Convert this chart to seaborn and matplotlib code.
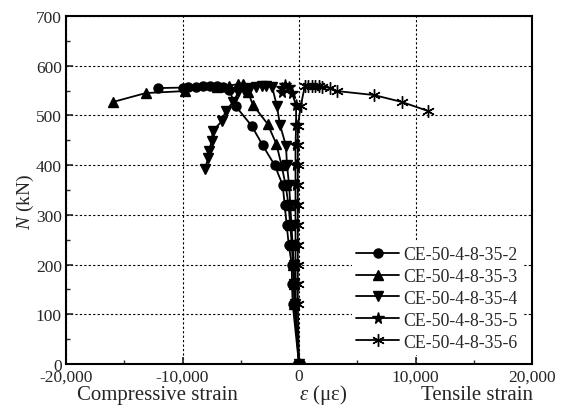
import matplotlib
matplotlib.use("Agg")
import matplotlib.pyplot as plt
import seaborn as sns
import pandas as pd
from matplotlib.ticker import FuncFormatter, MultipleLocator
from matplotlib.lines import Line2D

# Load (kN) versus strain (micro-strain) for each specimen
specimens = ["CE-50-4-8-35-2", "CE-50-4-8-35-3", "CE-50-4-8-35-4",
             "CE-50-4-8-35-5", "CE-50-4-8-35-6"]

strain_s2 = [0, -540, -600, -620, -880, -1060, -1230, -1400, -2090, -3120, -4060,
             -5450, -6000, -6500, -7000, -7600, -8200, -8800, -9500, -10000, -12100]
load_s2 = [0, 120, 160, 200, 240, 280, 320, 360, 400, 440, 479,
           519, 552, 558, 560, 560, 559, 558, 557, 556, 555]

strain_s3 = [0, -400, -450, -520, -620, -750, -900, -1150, -1500, -1950, -2700,
             -3950, -4400, -4800, -5200, -6000, -7000, -9800, -13150, -15980]
load_s3 = [0, 120, 160, 200, 240, 280, 320, 360, 400, 443, 483,
           521, 548, 563, 563, 560, 557, 549, 545, 527]

strain_s4 = [0, -350, -400, -450, -550, -650, -750, -850, -1030, -1120, -1630,
             -1900, -2300, -2800, -3200, -3700, -4200, -4700, -5200, -5650,
             -6300, -6600, -7400, -7500, -7700, -7800, -8070]
load_s4 = [0, 120, 160, 200, 240, 280, 320, 360, 400, 439, 481,
           519, 557, 560, 559, 558, 555, 552, 547, 527,
           509, 489, 469, 449, 429, 414, 392]

strain_s5 = [0, -280, -280, -300, -300, -300, -300, -300, -300, -300, -250,
             -250, -600, -900, -1200, -1500, -1450]
load_s5 = [0, 120, 160, 200, 240, 280, 320, 360, 400, 440, 480,
           520, 545, 558, 562, 556, 547]

strain_s6 = [0, -100, -100, -100, -100, -100, -100, -100, -100, -100, -100,
             150, 500, 800, 1100, 1400, 1700, 2000, 2660, 3260, 6440, 8840, 11070]
load_s6 = [0, 120, 160, 200, 240, 280, 320, 360, 400, 440, 479,
           519, 559, 560, 560, 560, 559, 558, 555, 549, 541, 527, 509]

x_ticks = [-20000, -10000, 0, 10000, 20000]
y_ticks = [0, 100, 200, 300, 400, 500, 600, 700]

series = [(strain_s2, load_s2), (strain_s3, load_s3), (strain_s4, load_s4),
          (strain_s5, load_s5), (strain_s6, load_s6)]
frames = []
for name, (s, n) in zip(specimens, series):
    frames.append(pd.DataFrame({"strain": s, "load": n, "specimen": name}))
df = pd.concat(frames, ignore_index=True)

sns.set_style("ticks")
plt.rcParams["font.family"] = ["Liberation Serif", "DejaVu Serif"]
plt.rcParams["mathtext.fontset"] = "custom"
plt.rcParams["mathtext.rm"] = "Liberation Serif"
plt.rcParams["mathtext.it"] = "Liberation Serif:italic"

fig = plt.figure(figsize=(5.63, 4.10), dpi=100)
ax = fig.add_axes([66 / 563, 1 - 365 / 410, (532 - 66) / 563, (365 - 17) / 410])

marker_map = {specimens[0]: "o", specimens[1]: "^", specimens[2]: "v",
              specimens[3]: "*", specimens[4]: (6, 2, 0)}
size_map = {specimens[0]: 6.5, specimens[1]: 7, specimens[2]: 7,
            specimens[3]: 8.5, specimens[4]: 9}

for name in specimens:
    sub = df[df["specimen"] == name]
    sns.lineplot(data=sub, x="strain", y="load", sort=False, estimator=None,
                 color="black", linewidth=1.3, marker=marker_map[name],
                 markersize=size_map[name], markeredgecolor="black",
                 markeredgewidth=1.0, ax=ax, legend=False)

ax.set_xlim(-20000, 20000)
ax.set_ylim(0, 700)
ax.set_xticks(x_ticks)
ax.set_yticks(y_ticks)
ax.xaxis.set_minor_locator(MultipleLocator(5000))
ax.yaxis.set_minor_locator(MultipleLocator(50))
ax.xaxis.set_major_formatter(FuncFormatter(lambda v, p: f"{int(v):,}"))
ax.tick_params(which="major", direction="in", length=5, width=1.2,
               labelsize=12.5, pad=3, top=False, right=False)
ax.tick_params(which="minor", direction="in", length=3, width=1.0,
               top=False, right=False)
ax.grid(True, which="major", color="black", linestyle=(0, (2, 2)), linewidth=0.8)
ax.set_axisbelow(True)
for sp in ax.spines.values():
    sp.set_linewidth(1.5)
    sp.set_color("black")
ax.set_xlabel("")
ax.set_ylabel("")

fig.text(25 / 563, 1 - 202 / 410, r"$N$ (kN)", rotation=90, ha="center",
         va="center", fontsize=14)
fig.text(157 / 563, 1 - 400 / 410, "Compressive strain", ha="center",
         va="baseline", fontsize=15)
fig.text(323 / 563, 1 - 400 / 410, r"$ε$ (με)", ha="center",
         va="baseline", fontsize=15)
fig.text(477 / 563, 1 - 400 / 410, "Tensile strain", ha="center",
         va="baseline", fontsize=15)

handles = [Line2D([], [], color="black", linewidth=1.3, marker=marker_map[n],
                  markersize=size_map[n], markeredgecolor="black",
                  markeredgewidth=1.0) for n in specimens]
leg = ax.legend(handles, specimens, loc="lower right",
                bbox_to_anchor=(0.998, 0.0), fontsize=12.8,
                handlelength=2.4, handletextpad=0.25, labelspacing=0.28,
                borderpad=0.25, frameon=True, framealpha=1, fancybox=False)
leg.get_frame().set_edgecolor("none")
leg.get_frame().set_facecolor("white")

fig.savefig("out.png", dpi=100)
